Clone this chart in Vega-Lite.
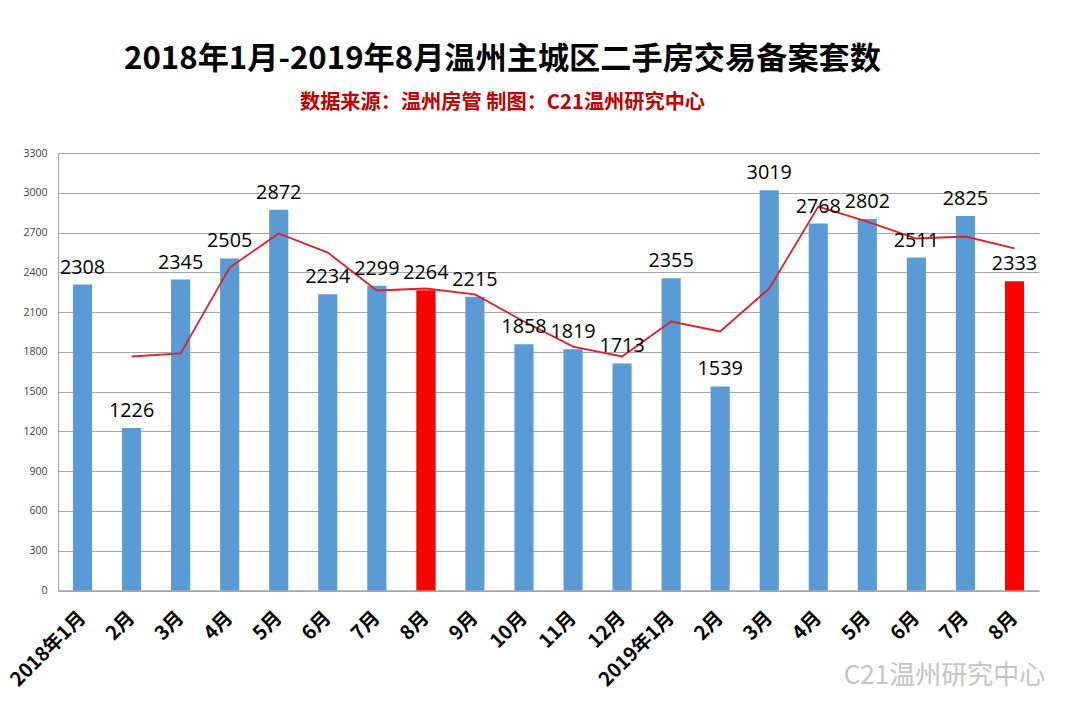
{"$schema":"https://vega.github.io/schema/vega-lite/v6.json","width":981,"height":437.5,"autosize":"none","padding":{"left":58,"top":153,"right":41,"bottom":130.5},"background":"white",
"title":{"text":"2018年1月-2019年8月温州主城区二手房交易备案套数","subtitle":"数据来源：温州房管  制图：C21温州研究中心","anchor":"middle","dx":-46,"offset":35,"font":"Noto Sans CJK SC","fontSize":31.2,"fontWeight":"bold","color":"#000000","subtitleFont":"Noto Sans CJK SC","subtitleFontSize":20.2,"subtitleFontWeight":"bold","subtitleColor":"#C00000","subtitlePadding":18},
"data":{"values":[
{"m":"2018年1月","v":2308,"t":"a"},{"m":"2018年2月","v":1226,"t":"a","avg":1765},{"m":"2018年3月","v":2345,"t":"a","avg":1788},{"m":"2018年4月","v":2505,"t":"a","avg":2436},{"m":"2018年5月","v":2872,"t":"a","avg":2693},{"m":"2018年6月","v":2234,"t":"a","avg":2549},{"m":"2018年7月","v":2299,"t":"a","avg":2263},{"m":"2018年8月","v":2264,"t":"b","avg":2278},{"m":"2018年9月","v":2215,"t":"a","avg":2233},{"m":"2018年10月","v":1858,"t":"a","avg":2029},{"m":"2018年11月","v":1819,"t":"a","avg":1840},{"m":"2018年12月","v":1713,"t":"a","avg":1765},{"m":"2019年1月","v":2355,"t":"a","avg":2029},{"m":"2019年2月","v":1539,"t":"a","avg":1954},{"m":"2019年3月","v":3019,"t":"a","avg":2278},{"m":"2019年4月","v":2768,"t":"a","avg":2896},{"m":"2019年5月","v":2802,"t":"a","avg":2783},{"m":"2019年6月","v":2511,"t":"a","avg":2655},{"m":"2019年7月","v":2825,"t":"a","avg":2670},{"m":"2019年8月","v":2333,"t":"b","avg":2580}]},
"encoding":{"x":{"field":"m","type":"nominal","sort":null,"scale":{"paddingInner":0.61,"paddingOuter":0.305},
"axis":{"title":"C21温州研究中心","titleX":886,"titleY":72,"titleFont":"Noto Sans CJK SC","titleFontSize":26,"titleFontWeight":"normal","titleColor":"#c4c4c4","labelExpr":"test(/年1月$/, datum.label) ? datum.label : replace(datum.label, /^.*年/, '')","labelAngle":-45,"labelAlign":"right","labelBaseline":"middle","labelFont":"Noto Sans CJK SC","labelFontSize":19.5,"labelFontWeight":"bold","labelColor":"#000000","labelPadding":24,"ticks":false,"domainColor":"#a6a6a6","domainWidth":1.5,"grid":false,"labelOverlap":false}},
"y":{"field":"v","type":"quantitative","scale":{"domain":[0,3300],"nice":false},"axis":{"title":null,"values":[0,300,600,900,1200,1500,1800,2100,2400,2700,3000,3300],"format":"d","labelOverlap":false,"labelFont":"Open Sans","labelFontSize":10.5,"labelColor":"#404040","labelPadding":11,"ticks":false,"gridColor":"#a6a6a6","gridWidth":1,"domainColor":"#a6a6a6"}}},
"layer":[
{"mark":{"type":"bar","clip":false},"encoding":{"color":{"field":"t","type":"nominal","scale":{"domain":["a","b"],"range":["#5B9BD5","#FF0000"]},"legend":null}}},
{"mark":{"type":"line","color":"#D8232A","strokeWidth":1.8,"interpolate":"linear"},"encoding":{"y":{"field":"avg","type":"quantitative","scale":{"domain":[0,3300],"nice":false},"axis":{"title":null,"values":[0,300,600,900,1200,1500,1800,2100,2400,2700,3000,3300],"format":"d","labelOverlap":false,"labelFont":"Open Sans","labelFontSize":10.5,"labelColor":"#404040","labelPadding":11,"ticks":false,"gridColor":"#a6a6a6","gridWidth":1,"domainColor":"#a6a6a6"}}}},
{"mark":{"type":"text","baseline":"alphabetic","dy":-11,"font":"Open Sans","fontSize":19.8,"color":"#000000"},"encoding":{"text":{"field":"v","type":"quantitative","format":"d"}}}
],
"config":{"view":{"stroke":null}}}
